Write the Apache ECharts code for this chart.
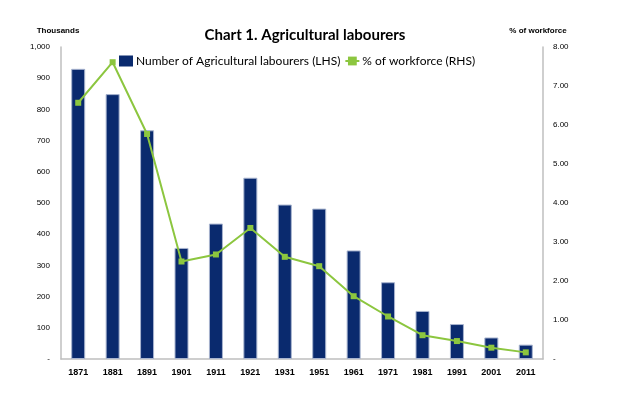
<!DOCTYPE html>
<html><head><meta charset="utf-8">
<script src="https://cdn.jsdelivr.net/npm/echarts@6/dist/echarts.min.js"></script>
<style>html,body{margin:0;padding:0;background:#fff}#c{width:620px;height:394px}</style>
</head><body><div id="c"></div>
<script>
const years = ['1871','1881','1891','1901','1911','1921','1931','1951','1961','1971','1981','1991','2001','2011'];
const labourers = [930, 849, 733, 356, 434, 581, 495, 482, 348, 246, 154, 112, 69, 46];
const pctWorkforce = [6.57, 7.61, 5.77, 2.50, 2.68, 3.36, 2.62, 2.38, 1.61, 1.09, 0.61, 0.46, 0.29, 0.17];

const chart = echarts.init(document.getElementById('c'), null, {renderer: 'canvas'});
const axisCol = '#bfbfbf';
chart.setOption({
  animation: false,
  title: {
    text: 'Chart 1. Agricultural labourers', left: 300, top: 23, textAlign: 'center',
    textStyle: {fontFamily: 'Lato', fontWeight: 'bold', fontSize: 15, color: '#000'}
  },
  legend: {
    top: 50, left: 114, itemGap: 4, itemWidth: 14, itemHeight: 11,
    itemStyle: {borderWidth: 0},
    textStyle: {fontFamily: 'Lato', fontSize: 12, color: '#000', padding: [0, 0, 0, -2]},
    data: [
      {name: 'Number of Agricultural labourers (LHS)', icon: 'rect'},
      {name: '% of workforce (RHS)'}
    ]
  },
  grid: {left: 61, right: 77, top: 47, bottom: 35, containLabel: false},
  xAxis: {
    type: 'category', data: years,
    axisLine: {lineStyle: {color: axisCol, width: 1.5}},
    axisTick: {show: false},
    axisLabel: {fontFamily: 'Liberation Sans', fontWeight: 'bold', fontSize: 9, color: '#000', margin: 9}
  },
  yAxis: [
    {
      type: 'value', min: 0, max: 1000, interval: 100,
      name: 'Thousands', nameLocation: 'end', nameGap: 12,
      nameTextStyle: {fontFamily: 'Liberation Sans', fontWeight: 'bold', fontSize: 8, color: '#000', padding: [0, 6, 0, 0]},
      axisLine: {show: true, lineStyle: {color: axisCol, width: 1.5}},
      axisTick: {show: false}, splitLine: {show: false},
      axisLabel: {fontFamily: 'Liberation Sans', fontSize: 8, color: '#000', margin: 11,
        formatter: v => v === 0 ? '-' : v.toLocaleString('en-US')}
    },
    {
      type: 'value', min: 0, max: 8, interval: 1, position: 'right',
      name: '% of workforce', nameLocation: 'end', nameGap: 12,
      nameTextStyle: {fontFamily: 'Liberation Sans', fontWeight: 'bold', fontSize: 8, color: '#000', padding: [0, 10, 0, 0]},
      axisLine: {show: true, lineStyle: {color: axisCol, width: 1.5}},
      axisTick: {show: false}, splitLine: {show: false},
      axisLabel: {fontFamily: 'Liberation Sans', fontSize: 8, color: '#000', margin: 10,
        formatter: v => v === 0 ? '-' : v.toFixed(2)}
    }
  ],
  series: [
    {
      name: 'Number of Agricultural labourers (LHS)', type: 'bar', data: labourers, yAxisIndex: 0,
      barWidth: 14,
      itemStyle: {color: '#0a2a6e', borderColor: '#a8b4cf', borderWidth: 1}
    },
    {
      name: '% of workforce (RHS)', type: 'line', data: pctWorkforce, yAxisIndex: 1,
      symbol: 'rect', symbolSize: 6,
      lineStyle: {color: '#8cc63f', width: 2},
      itemStyle: {color: '#8cc63f'}
    }
  ]
});
</script></body></html>
